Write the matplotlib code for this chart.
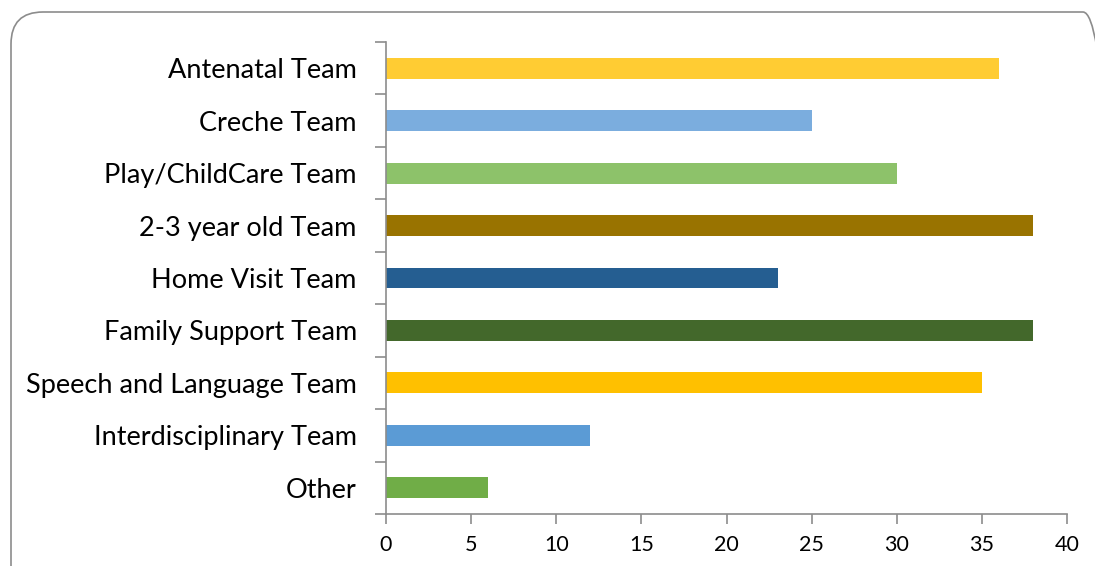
import matplotlib
matplotlib.use("Agg")
import matplotlib.pyplot as plt
from matplotlib.patches import FancyBboxPatch
import numpy as np

teams = ["Antenatal Team", "Creche Team", "Play/ChildCare Team", "2-3 year old Team",
         "Home Visit Team", "Family Support Team", "Speech and Language Team",
         "Interdisciplinary Team", "Other"]
counts = [36, 25, 30, 38, 23, 38, 35, 12, 6]
bar_colors = ["#FFCC33", "#7BADDE", "#8DC26A", "#997300", "#255E91",
              "#43682B", "#FFC000", "#5B9BD5", "#70AD47"]
x_ticks = [0, 5, 10, 15, 20, 25, 30, 35, 40]

plt.rcParams["font.family"] = ["Lato", "DejaVu Sans"]

W, H = 1095, 566
fig = plt.figure(figsize=(W / 100, H / 100), dpi=100)

# rounded chart-area frame, drawn in pixel coordinates
frame = FancyBboxPatch((11, -60), 1115 - 11, (H - 12) + 60,
                       boxstyle="round,pad=0,rounding_size=32",
                       transform=None, fill=False,
                       edgecolor="#8C8C8C", linewidth=1.2)
fig.patches.append(frame)

ax = fig.add_axes([386 / W, 1 - 514 / H, (1067 - 386) / W, (514 - 42) / H])
ypos = np.arange(len(teams))[::-1]
ax.barh(ypos, counts, height=0.4, color=bar_colors, zorder=2)

ax.set_xlim(0, 40)
ax.set_ylim(-0.5, len(teams) - 0.5)
ax.set_xticks(x_ticks)
ax.set_xticklabels([str(t) for t in x_ticks], fontsize=15.5)
ax.set_yticks(ypos)
ax.set_yticklabels(teams, fontsize=19.5)
ax.set_yticks(np.arange(-0.5, len(teams), 1.0), minor=True)

ax.tick_params(axis="y", which="major", length=0, pad=21)
ax.tick_params(axis="y", which="minor", length=8, width=1.2, color="#8C8C8C", direction="out")
ax.tick_params(axis="x", length=7, width=1.2, color="#8C8C8C", direction="out", pad=8)

for side in ("top", "right"):
    ax.spines[side].set_visible(False)
for side in ("left", "bottom"):
    ax.spines[side].set_color("#8C8C8C")
    ax.spines[side].set_linewidth(1.2)

fig.savefig("out.png", dpi=100)
